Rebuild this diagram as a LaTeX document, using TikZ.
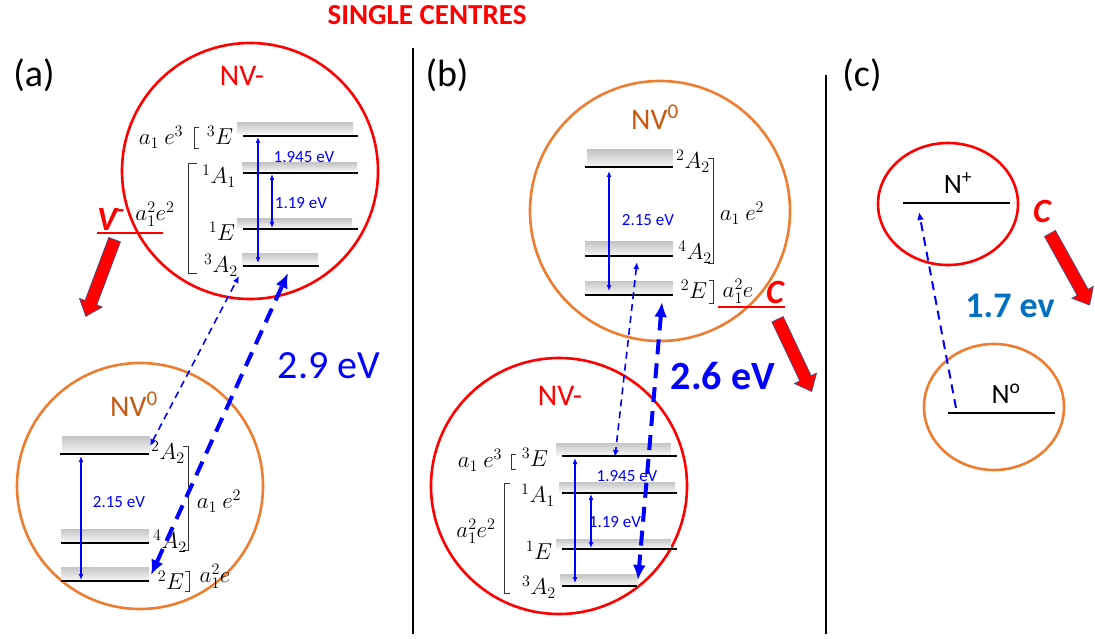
\RequirePackage{fix-cm}
\documentclass[tikz,border=0pt]{standalone}
\usepackage{fontspec}
\setmainfont{Carlito}
\usepackage{tikz}
\usetikzlibrary{arrows.meta,shapes.arrows,shapes.geometric,positioning}
\definecolor{nvred}{RGB}{255,0,0}
\definecolor{nvorange}{RGB}{237,125,49}
\definecolor{nvorangetxt}{RGB}{197,90,17}
\definecolor{evblue}{RGB}{0,0,255}
\definecolor{cblue}{RGB}{0,112,192}
\definecolor{arredge}{RGB}{47,85,151}

\begin{document}
\begin{tikzpicture}[x=1pt, y=-1pt,
    nvmcirc/.style={circle, draw=nvred, line width=2.6pt, inner sep=0pt},
    nvocirc/.style={circle, draw=nvorange, line width=2.6pt, inner sep=0pt},
    nvmtxt/.style={text=nvred, font=\fontsize{30}{32}\selectfont},
    nvotxt/.style={text=nvorangetxt, font=\fontsize{30}{32}\selectfont},
    lvlbar/.style={top color=gray!45, bottom color=gray!8, draw=none},
    lvl/.style={line width=2.2pt},
    lvlthin/.style={line width=1.2pt},
    lbl/.style={font=\fontsize{23}{25}\selectfont, inner sep=0pt},
    brk/.style={line width=0.7pt, black!80},
    evtxt/.style={text=evblue, font=\fontsize{17}{19}\selectfont, inner sep=0pt},
    trans/.style={{Latex[length=6pt,width=5pt]}-{Latex[length=6pt,width=5pt]}, evblue, line width=1.3pt},
    thindash/.style={{Latex[length=7pt,width=6pt]}-{Latex[length=7pt,width=6pt]}, evblue, line width=1.6pt, dash pattern=on 7pt off 5pt},
    thickdash/.style={{Latex[length=15pt,width=13pt]}-{Latex[length=15pt,width=13pt]}, evblue, line width=4pt, dash pattern=on 15pt off 9pt},
    redarr/.style={single arrow, fill=nvred, draw=arredge, line width=0.6pt, inner xsep=0pt, inner ysep=6pt,
        single arrow head extend=6pt, single arrow tip angle=80},
    chg/.style={text=nvred, font=\fontsize{34}{36}\selectfont\bfseries\itshape, inner sep=0pt},
    panel/.style={font=\fontsize{38}{40}\selectfont}
]
    \useasboundingbox (0,0) rectangle (1095,639);

    \node[text=nvred, font=\fontsize{29}{31}\selectfont\bfseries] (title) at (427,15) {SINGLE CENTRES};
    \coordinate (sepAtop) at (413,48);
    \coordinate (sepAbot) at (413,634);
    \coordinate (sepBtop) at (826,75);
    \coordinate (sepBbot) at (826,634);
    \draw[line width=1.8pt] (sepAtop) -- (sepAbot);
    \draw[line width=1.8pt] (sepBtop) -- (sepBbot);

    \node[panel] (pa) at (34,75) {(a)};
    \node[panel] (pb) at (447,75) {(b)};
    \node[panel] (pc) at (862,75) {(c)};

    % (a) NV- on top
    \node[nvmcirc, minimum size=256pt] (aminus) at (250,171) {};
    \node[nvmtxt] (aminustxt) at (242,76) {NV-};
    \fill[lvlbar] (237,123) rectangle (353,134);
    \draw[lvl] (243,136) -- (358,136);
    \fill[lvlbar] (242,163) rectangle (357,171);
    \draw[lvl] (243,173) -- (358,173);
    \fill[lvlbar] (237,219) rectangle (352,228);
    \draw[lvl] (243,229) -- (358,229);
    \fill[lvlbar] (242,253) rectangle (318,264);
    \draw[lvl] (243,266) -- (319,266);
    \node[lbl] (a3E) at (220,135) {$^3E$};
    \node[lbl] (ae3) at (161,137) {$a_1\ e^3$};
    \draw[brk] (199,127) -- (194,127) -- (194,148) -- (199,148);
    \node[lbl] (a1A1) at (219,176) {$^1A_1$};
    \node[lbl] (aa2e2) at (155,214) {$a_1^2e^2$};
    \draw[brk] (197,163) -- (188,163) -- (188,273) -- (197,273);
    \node[lbl] (a1E) at (222,231) {$^1E$};
    \node[lbl] (a3A2) at (221,265) {$^3A_2$};
    \coordinate (am3Et) at (258,137);
    \coordinate (am3Ab) at (258,263);
    \coordinate (am1At) at (272,174);
    \coordinate (am1Eb) at (272,228);
    \draw[trans] (am3Et) -- (am3Ab);
    \draw[trans] (am1At) -- (am1Eb);
    \node[evtxt] (aev1) at (304,157) {1.945 eV};
    \node[evtxt] (aev2) at (301,203) {1.19 eV};

    % (a) NV0 below
    \node[nvocirc, minimum size=246pt] (azero) at (140,486) {};
    \node[nvotxt] (azerotxt) at (134,404) {NV\textsuperscript{0}};
    \fill[lvlbar] (62,436) rectangle (150,453);
    \draw[lvlthin] (60,454) -- (149,454);
    \fill[lvlbar] (61,529) rectangle (149,542);
    \draw[lvl] (61,543) -- (149,543);
    \fill[lvlbar] (61,567) rectangle (149,580);
    \draw[lvl] (61,581) -- (149,581);
    \node[lbl] (a2A2) at (168,452) {$^2A_2$};
    \node[lbl] (a4A2) at (170,541) {$^4A_2$};
    \node[lbl] (a2E) at (171,580) {$^2E$};
    \draw[brk] (185,571) -- (189,571) -- (189,591) -- (185,591);
    \node[lbl] (aa2e) at (215,576) {$a_1^2e$};
    \draw[brk] (183,446) -- (188,446) -- (188,550) -- (183,550);
    \node[lbl] (ae2) at (219,501) {$a_1\ e^2$};
    \coordinate (az2At) at (81,456);
    \coordinate (az2Eb) at (81,580);
    \draw[trans] (az2At) -- (az2Eb);
    \node[evtxt] (aev3) at (119,502) {2.15 eV};

    % (a) transitions
    \coordinate (azA) at (150,446);
    \coordinate (amA) at (239,276);
    \coordinate (azE) at (151,575);
    \coordinate (amB) at (288,273);
    \draw[thindash] (azA) -- (amA);
    \draw[thickdash] (azE) -- (amB);
    \node[text=evblue, font=\fontsize{40}{42}\selectfont] (aev) at (329,366) {2.9 eV};

    \node[chg] (vminus) at (111,219) {V\textsuperscript{-}};
    \coordinate (vul) at (97,233);
    \coordinate (vur) at (163,233);
    \draw[nvred, line width=1.8pt] (vul) -- (vur);
    \node[redarr, minimum height=82pt, rotate=249.4] (vdown) at (101.5,274.5) {};

    % (b) NV0 on top
    \node[nvocirc, minimum size=260pt] (bzero) at (660,211) {};
    \node[nvotxt] (bzerotxt) at (655,117) {NV\textsuperscript{0}};
    \fill[lvlbar] (587,150) rectangle (673,166);
    \draw[lvlthin] (585,167) -- (673,167);
    \fill[lvlbar] (585,242) rectangle (673,255);
    \draw[lvl] (585,256) -- (673,256);
    \fill[lvlbar] (585,281) rectangle (673,294);
    \draw[lvl] (585,295) -- (673,295);
    \node[lbl] (b2A2) at (693,161) {$^2A_2$};
    \node[lbl] (b4A2) at (695,252) {$^4A_2$};
    \node[lbl] (b2E) at (694,289) {$^2E$};
    \draw[brk] (709,280) -- (713,280) -- (713,303) -- (709,303);
    \node[lbl] (ba2e) at (738,291) {$a_1^2e$};
    \draw[brk] (708,158) -- (713,158) -- (713,263) -- (708,263);
    \node[lbl] (be2) at (742,213) {$a_1\ e^2$};
    \coordinate (bz2At) at (609,171);
    \coordinate (bz2Eb) at (609,291);
    \draw[trans] (bz2At) -- (bz2Eb);
    \node[evtxt] (bev3) at (648,220) {2.15 eV};

    \node[chg] (cb) at (775,292) {C};
    \coordinate (cul) at (718,307);
    \coordinate (cur) at (785,307);
    \draw[nvred, line width=1.8pt] (cul) -- (cur);
    \node[redarr, minimum height=80pt, rotate=295.3] (bdown) at (793,352) {};

    % (b) NV- below
    \node[nvmcirc, minimum size=256pt] (bminus) at (559,486) {};
    \node[nvmtxt] (bminustxt) at (560,396) {NV-};
    \fill[lvlbar] (556,443) rectangle (671,455);
    \draw[lvl] (562,456) -- (677,456);
    \fill[lvlbar] (559,482) rectangle (675,492);
    \draw[lvl] (562,493) -- (677,493);
    \fill[lvlbar] (556,539) rectangle (671,548);
    \draw[lvl] (562,549) -- (677,549);
    \fill[lvlbar] (560,574) rectangle (638,585);
    \draw[lvl] (562,586) -- (637,586);
    \node[lbl] (be3) at (480,460) {$a_1\ e^3$};
    \draw[brk] (516,454) -- (511,454) -- (511,469) -- (516,469);
    \node[lbl] (b3E) at (535,457) {$^3E$};
    \node[lbl] (b1A1) at (538,495) {$^1A_1$};
    \draw[brk] (510,483) -- (504,483) -- (504,593) -- (510,593);
    \node[lbl] (ba2e2) at (476,531) {$a_1^2e^2$};
    \node[lbl] (b1E) at (539,550) {$^1E$};
    \node[lbl] (b3A2) at (539,587) {$^3A_2$};
    \coordinate (bm3Et) at (575,458);
    \coordinate (bm3Ab) at (575,583);
    \coordinate (bm1At) at (591,494);
    \coordinate (bm1Eb) at (591,548);
    \draw[trans] (bm3Et) -- (bm3Ab);
    \draw[trans] (bm1At) -- (bm1Eb);
    \node[evtxt] (bev1) at (627,476) {1.945 eV};
    \node[evtxt] (bev2) at (615,522) {1.19 eV};

    % (b) transitions
    \coordinate (bzA) at (637,262);
    \coordinate (bmE) at (615,457);
    \coordinate (bzE) at (662,302);
    \coordinate (bmA) at (638,580);
    \draw[thindash] (bzA) -- (bmE);
    \draw[thickdash] (bzE) -- (bmA);
    \node[text=evblue, font=\fontsize{40}{42}\selectfont\bfseries] (bev) at (723,376) {2.6 eV};

    % (c) nitrogen
    \node[ellipse, draw=nvred, line width=2.6pt, minimum width=140pt, minimum height=122pt, inner sep=0pt] (nplus) at (948,204) {};
    \node[font=\fontsize{28}{30}\selectfont] (nplustxt) at (958,183) {N\textsuperscript{+}};
    \draw[lvlthin, line width=1.8pt] (903,203) -- (1010,203);
    \node[ellipse, draw=nvorange, line width=2.6pt, minimum width=140pt, minimum height=126pt, inner sep=0pt] (nzero) at (994,407) {};
    \node[font=\fontsize{28}{30}\selectfont] (nzerotxt) at (1006,394) {N\textsuperscript{o}};
    \draw[lvlthin, line width=1.8pt] (948,413) -- (1055,413);
    \coordinate (nzA) at (956,408);
    \coordinate (npA) at (919,212);
    \draw[-{Latex[length=8pt,width=7pt]}, evblue, line width=2pt, dash pattern=on 9pt off 6pt] (nzA) -- (npA);
    \node[text=cblue, font=\fontsize{36}{38}\selectfont\bfseries] (cev) at (1010,306) {1.7 ev};
    \node[chg] (cc) at (1042,211) {C};
    \node[redarr, minimum height=82pt, rotate=299] (cdown) at (1068,266) {};
\end{tikzpicture}
\end{document}
